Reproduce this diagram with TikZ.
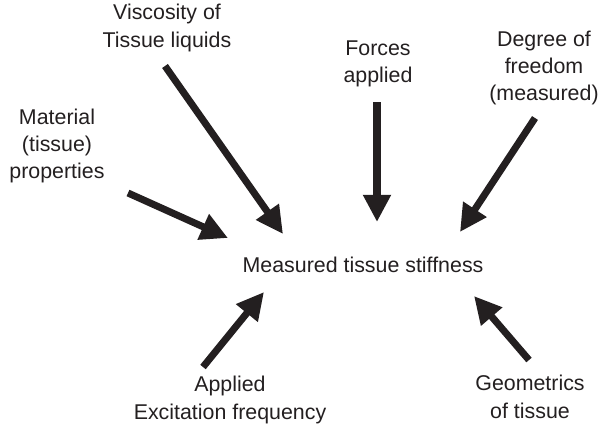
\documentclass[tikz,border=0pt]{standalone}
\usepackage{fontspec}
\setmainfont{Liberation Sans}
\usetikzlibrary{arrows.meta}

\definecolor{ink}{HTML}{231F20}

\tikzset{
    lbl/.style={align=center,text=ink,inner sep=0pt,
        font=\fontsize{15.2}{19.5}\selectfont},
    push/.style={draw=ink,line width=5pt,
        -{Triangle[length=0.68cm,width=0.66cm]}}
}

\begin{document}
\begin{tikzpicture}[x=0.025cm,y=-0.025cm]

\useasboundingbox (0,0) rectangle (604,429);

\node[lbl] (stiff) at (363,265) {Measured tissue stiffness};

\node[lbl] (visc) at (167,28) {Viscosity of\\Tissue liquids};
\node[lbl] (mat) at (57,146) {Material\\(tissue)\\properties};
\node[lbl] (force) at (378,64) {Forces\\applied};
\node[lbl] (dof) at (544,68) {Degree of\\freedom\\(measured)};
\node[lbl] (freq) at (230,400) {Applied\\Excitation frequency};
\node[lbl] (geom) at (530,397) {Geometrics\\of tissue};

% arrow ends
\coordinate (visc-a) at (165,66);   \coordinate (visc-b) at (283,234);
\coordinate (mat-a) at (128,193);   \coordinate (mat-b) at (228,238);
\coordinate (force-a) at (377,102); \coordinate (force-b) at (377,222);
\coordinate (dof-a) at (535,118);   \coordinate (dof-b) at (460,232);
\coordinate (freq-a) at (203,367);  \coordinate (freq-b) at (264,292);
\coordinate (geom-a) at (529,360);  \coordinate (geom-b) at (474,296);

\foreach \n in {visc,mat,force,dof,freq,geom}
    \draw [push] (\n-a) -- (\n-b);

\end{tikzpicture}
\end{document}
